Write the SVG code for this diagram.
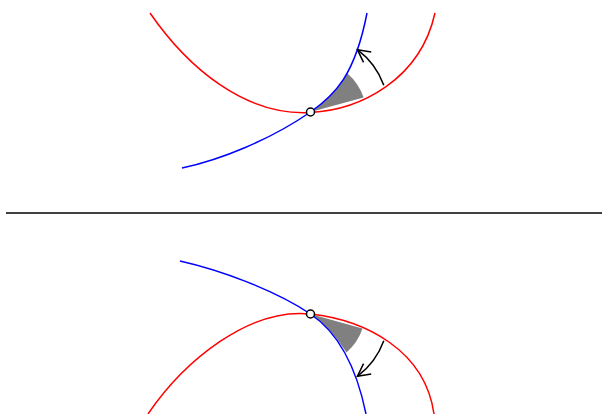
<svg xmlns="http://www.w3.org/2000/svg" width="602" height="414" viewBox="0 0 602 414">
<style>
.red{fill:none;stroke:#ff0000;stroke-width:1.5;stroke-linejoin:round}
.blue{fill:none;stroke:#0000ff;stroke-width:1.5;stroke-linejoin:round}
.wedge{fill:#808080;stroke:none}
.arr{fill:none;stroke:#000;stroke-width:1.5}
.pt{fill:#fff;stroke:#000;stroke-width:1.5}
</style>
<defs>
<marker id="ah" markerUnits="userSpaceOnUse" markerWidth="20" markerHeight="20" viewBox="-15 -10 20 20" refX="0" refY="0" orient="auto" overflow="visible">
<path d="M-12.5,-6.4 L0,0 L-12.5,6.4" fill="none" stroke="#000" stroke-width="1.5"/>
</marker>
</defs>
<rect width="602" height="414" fill="#fff"/>
<g id="top">
<path class="wedge" d="M310.5,112 L363.6,97.6 A55 55 0 0 0 347.5,73.5 Q332,97 310.5,112 Z"/>
<path class="red" d="M150,13 C188,68 245,116 310.5,112.5 C360,110 420,80 435,13"/>
<path class="blue" d="M182,168 C220,160 270,140 310.5,112 C335,95 355,75 367,13"/>
<path class="arr" d="M383.8,85.3 A78 78 0 0 0 357.4,49.7" marker-end="url(#ah)"/>
<circle class="pt" cx="310.5" cy="112" r="4"/>
</g>
<g id="divider">
<line x1="6" y1="213" x2="602" y2="213" stroke="#000" stroke-width="1.5"/>
</g>
<g id="bottom">
<path class="wedge" d="M310.5,314 L362.5,328.6 A54 54 0 0 1 346.5,352.5 Q330,327 310.5,314 Z"/>
<path class="red" d="M148,414 C185,360 250,307.3 310.5,314 C365,320 425,350 434,414"/>
<path class="blue" d="M180,261 C220,270 275,290 310.5,314 C335,330.5 355,360 366,414"/>
<path class="arr" d="M383.8,340.7 A78 78 0 0 1 357.4,376.3" marker-end="url(#ah)"/>
<circle class="pt" cx="310.5" cy="314" r="4"/>
</g>
</svg>
